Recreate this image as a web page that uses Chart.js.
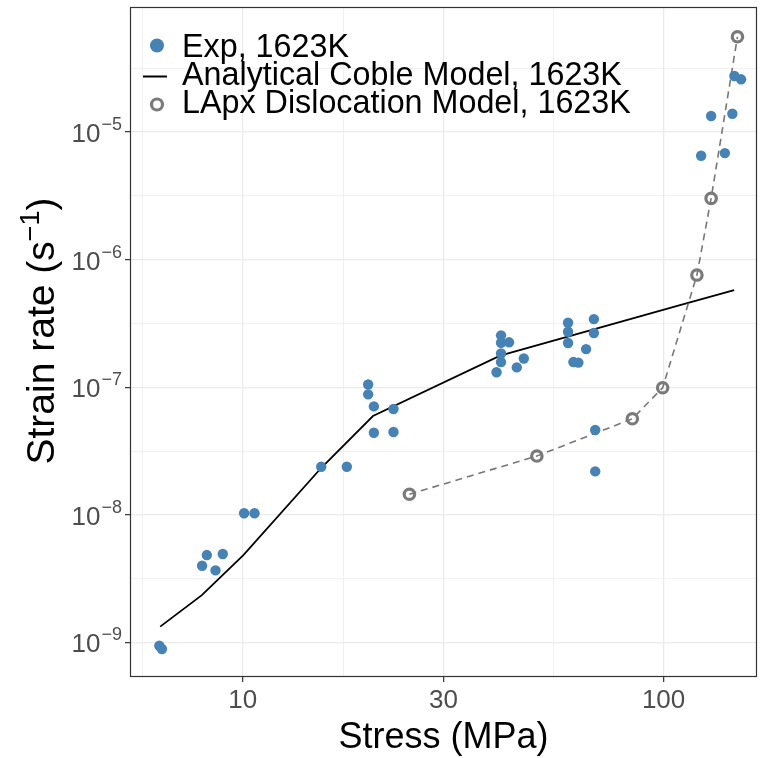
<!DOCTYPE html>
<html><head><meta charset="utf-8">
<script src="https://cdn.jsdelivr.net/npm/chart.js@4"></script>
<style>html,body{margin:0;padding:0;background:#fff}#wrap{width:760px;height:758px;position:relative}</style>
</head><body><div id="wrap"><canvas id="c" width="760" height="758"></canvas></div>
<script>
// Experimental data (stress MPa, strain rate 1/s)
const expStress = [6.34, 6.43, 8.01, 8.22, 8.62, 8.97, 10.08, 10.67, 15.37, 17.68, 19.87, 19.87, 20.5, 22.82, 20.5, 22.82, 40.1, 41.1, 41.1, 41.1, 42.95, 41.1, 44.8, 46.55, 59.3, 59.3, 59.3, 61.05, 62.75, 65.45, 68.3, 68.3, 68.8, 68.8, 122.8, 139.8, 129.7, 145.7, 147.3, 152.8];
const expRate = [9.42e-10, 8.88e-10, 3.99e-9, 4.84e-9, 3.67e-9, 4.93e-9, 1.03e-8, 1.03e-8, 2.38e-8, 2.38e-8, 1.05e-7, 8.8e-8, 7.08e-8, 6.75e-8, 4.40e-8, 4.46e-8, 1.31e-7, 1.575e-7, 1.84e-7, 2.23e-7, 2.25e-7, 2.55e-7, 1.43e-7, 1.68e-7, 3.2e-7, 2.72e-7, 2.22e-7, 1.575e-7, 1.56e-7, 1.99e-7, 3.42e-7, 2.66e-7, 4.62e-8, 2.19e-8, 6.52e-6, 6.84e-6, 1.335e-5, 1.39e-5, 2.75e-5, 2.59e-5];
// Analytical Coble model
const cobleStress = [6.37, 8.0, 10.04, 15.4, 20.4, 40.9, 109.4, 147.1];
const cobleRate = [1.33e-9, 2.35e-9, 4.84e-9, 2.35e-8, 5.95e-8, 1.77e-7, 4.41e-7, 5.78e-7];
// LApx dislocation model
const lapxStress = [24.9, 50.0, 84.3, 99.5, 120, 129.7, 149.8];
const lapxRate = [1.45e-8, 2.89e-8, 5.66e-8, 9.91e-8, 7.57e-7, 3.02e-6, 5.58e-5];
// Ticks
const xMajorTicks = [10, 30, 100];
const xMinorTicks = [5.77, 17.32, 54.77];
const yMajorTicks = [1e-9, 1e-8, 1e-7, 1e-6, 1e-5];
const yTickBase = ['10', '10', '10', '10', '10'];
const yTickExp = ['\u22129', '\u22128', '\u22127', '\u22126', '\u22125'];
const yMinorTicks = [3.162e-9, 3.162e-8, 3.162e-7, 3.162e-6, 3.162e-5];
const legendLabels = ['Exp, 1623K', 'Analytical Coble Model, 1623K', 'LApx Dislocation Model, 1623K'];
const xTitle = 'Stress (MPa)';
const yTitleMain = 'Strain rate (s';
const yTitleSup = '\u22121';

const FONT = '"Liberation Sans", Arial, sans-serif';
const BLUE = '#4682B4', GREY = '#7a7a7a';

const isIn = (arr, v) => arr.some(t => Math.abs(t - v) / t < 1e-6);
const toPts = (xs, ys) => xs.map((x, i) => ({x: x, y: ys[i]}));

const custom = {
  id: 'custom',
  afterDraw(chart) {
    const {ctx, chartArea: a, scales: {y}} = chart;
    ctx.save();
    ctx.strokeStyle = '#333333'; ctx.lineWidth = 1.2;
    ctx.strokeRect(a.left + 0.5, a.top + 0.5, a.right - a.left - 1, a.bottom - a.top - 1);
    ctx.fillStyle = '#4D4D4D';
    ctx.textAlign = 'left'; ctx.textBaseline = 'alphabetic';
    yMajorTicks.forEach((v, i) => {
      const py = y.getPixelForValue(v);
      ctx.font = '18px ' + FONT;
      const sw = ctx.measureText(yTickExp[i]).width;
      ctx.font = '26px ' + FONT;
      const bw = ctx.measureText(yTickBase[i]).width;
      const xr = a.left - 8;
      ctx.fillText(yTickBase[i], xr - sw - bw - 1, py + 10);
      ctx.font = '18px ' + FONT;
      ctx.fillText(yTickExp[i], xr - sw, py - 2);
    });
    ctx.fillStyle = '#000';
    ctx.translate(40, (a.top + a.bottom) / 2 - 11);
    ctx.rotate(-Math.PI / 2);
    ctx.font = '39px ' + FONT;
    const w1 = ctx.measureText(yTitleMain).width;
    const w3 = ctx.measureText(')').width;
    ctx.font = '27px ' + FONT;
    const w2 = ctx.measureText(yTitleSup).width;
    let sx = -(w1 + w2 + w3) / 2;
    ctx.font = '39px ' + FONT;
    ctx.fillText(yTitleMain, sx, 14);
    ctx.font = '27px ' + FONT;
    ctx.fillText(yTitleSup, sx + w1, -1);
    ctx.font = '39px ' + FONT;
    ctx.fillText(')', sx + w1 + w2, 14);
    ctx.restore();

    ctx.save();
    const rows = [56.7, 85, 113.3];
    ctx.font = '32.3px ' + FONT;
    ctx.fillStyle = '#000';
    ctx.textBaseline = 'alphabetic';
    legendLabels.forEach((t, i) => ctx.fillText(t, 182, rows[i]));
    ctx.fillStyle = BLUE;
    ctx.beginPath(); ctx.arc(157, 45.5, 7, 0, Math.PI * 2); ctx.fill();
    ctx.strokeStyle = '#000'; ctx.lineWidth = 2;
    ctx.beginPath(); ctx.moveTo(143, 76.5); ctx.lineTo(167, 76.5); ctx.stroke();
    ctx.strokeStyle = GREY; ctx.lineWidth = 3.2;
    ctx.beginPath(); ctx.arc(157, 104.5, 5.5, 0, Math.PI * 2); ctx.stroke();
    ctx.restore();
  }
};

new Chart(document.getElementById('c'), {
  type: 'scatter',
  data: {
    datasets: [
      {
        label: legendLabels[0], data: toPts(expStress, expRate), order: 0,
        pointRadius: 5.2, pointBackgroundColor: BLUE, pointBorderWidth: 0, borderColor: BLUE, showLine: false
      },
      {
        label: legendLabels[1], data: toPts(cobleStress, cobleRate), order: 2,
        showLine: true, borderColor: '#000', borderWidth: 1.8, pointRadius: 0, tension: 0
      },
      {
        label: legendLabels[2], data: toPts(lapxStress, lapxRate), order: 1,
        showLine: true, borderColor: '#777777', borderWidth: 1.6, borderDash: [7, 5],
        pointRadius: 5.2, pointBorderWidth: 3.2, pointBorderColor: GREY, pointBackgroundColor: 'rgba(0,0,0,0)'
      }
    ]
  },
  options: {
    responsive: false, animation: false, devicePixelRatio: 1,
    layout: {autoPadding: false, padding: {top: 7, right: 3, left: 0, bottom: 0}},
    plugins: {legend: {display: false}, tooltip: {enabled: false}},
    scales: {
      x: {
        type: 'logarithmic', min: 5.40, max: 166.7,
        afterBuildTicks: s => { s.ticks = [...xMinorTicks, ...xMajorTicks].sort((p, q) => p - q).map(v => ({value: v})); },
        afterFit: s => { s.height = 81; s.paddingLeft = 0; s.paddingRight = 0; s.paddingTop = 0; s.paddingBottom = 0; },
        ticks: {
          autoSkip: false, maxRotation: 0, padding: 3, color: '#4D4D4D',
          font: {size: 26, family: FONT},
          callback: v => isIn(xMajorTicks, v) ? String(v) : ''
        },
        grid: {
          color: '#EBEBEB',
          lineWidth: c => (c.tick && isIn(xMajorTicks, c.tick.value)) ? 1.3 : 0.7,
          tickColor: c => (c.tick && isIn(xMajorTicks, c.tick.value)) ? '#333333' : 'rgba(0,0,0,0)',
          tickLength: 5, tickWidth: 1.2
        },
        border: {display: false},
        title: {display: true, text: xTitle, color: '#000', font: {size: 36, family: FONT, lineHeight: 1.1}, padding: {top: 0, bottom: 0}}
      },
      y: {
        type: 'logarithmic', min: 5.36e-10, max: 9.55e-5,
        afterBuildTicks: s => { s.ticks = [...yMinorTicks, ...yMajorTicks].sort((p, q) => p - q).map(v => ({value: v})); },
        afterFit: s => { s.width = 130; s.paddingLeft = 0; s.paddingRight = 0; s.paddingTop = 0; s.paddingBottom = 0; },
        ticks: {display: false},
        grid: {
          color: '#EBEBEB',
          lineWidth: c => (c.tick && isIn(yMajorTicks, c.tick.value)) ? 1.3 : 0.7,
          tickColor: c => (c.tick && isIn(yMajorTicks, c.tick.value)) ? '#333333' : 'rgba(0,0,0,0)',
          tickLength: 5, tickWidth: 1.2
        },
        border: {display: false}
      }
    }
  },
  plugins: [custom]
});
</script>
</body></html>
